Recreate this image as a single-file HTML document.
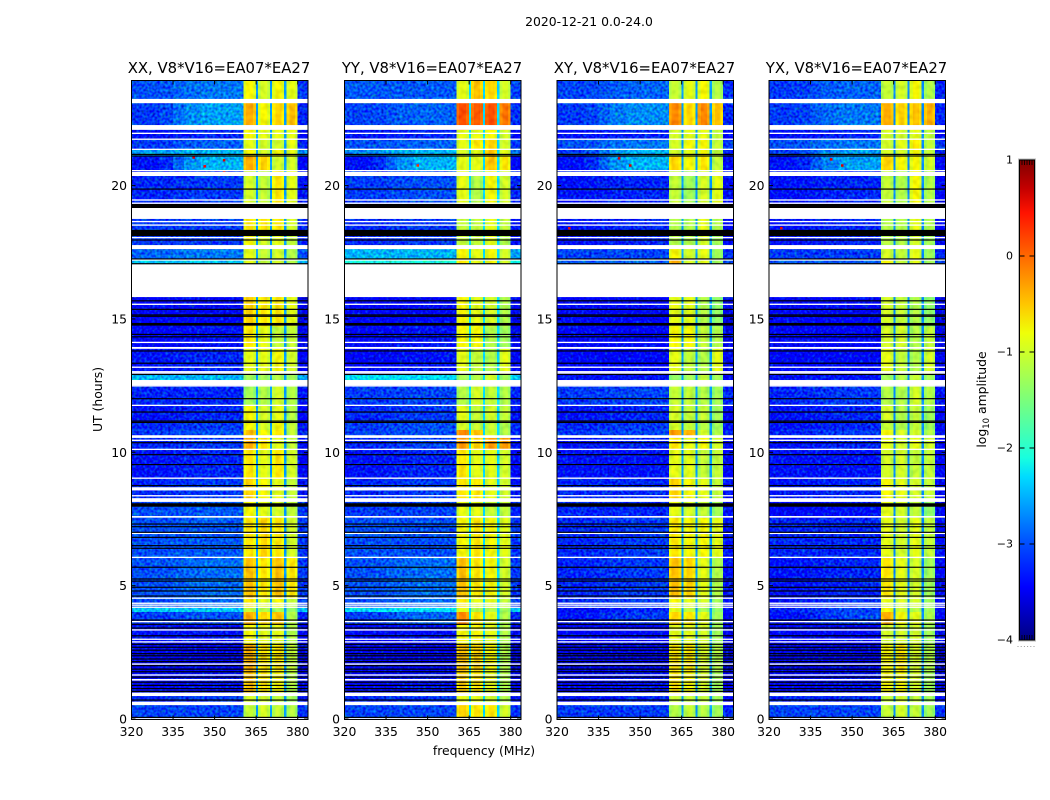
<!DOCTYPE html>
<html lang="en">
<head>
<meta charset="utf-8">
<title>2020-12-21 0.0-24.0</title>
<style>
html,body{margin:0;padding:0;background:#fff;}
body{width:1050px;height:800px;overflow:hidden;}
svg{display:block;}
text{font-family:"DejaVu Sans","Liberation Sans",sans-serif;fill:#000;}
</style>
</head>
<body>
<svg id="figure" xmlns="http://www.w3.org/2000/svg" width="1050" height="800" viewBox="0 0 1050 800">
  <defs>
    <filter id="bgNoise" filterUnits="userSpaceOnUse" x="0" y="0" width="1050" height="800" color-interpolation-filters="sRGB">
      <feTurbulence type="fractalNoise" baseFrequency="0.38" numOctaves="1" seed="7" result="n"/>
      <feColorMatrix in="n" type="matrix" values="0 0 0 0 0.5  1 0 0 0 0  0 1 0 0 0  0 0 0 0 1" result="m"/>
      <feComposite in="SourceGraphic" in2="m" operator="arithmetic" k1="0" k2="1" k3="1.0" k4="-0.5" result="mix"/>
      <feComposite in="mix" in2="SourceAlpha" operator="in"/>
    </filter>
    <filter id="bandNoise" filterUnits="userSpaceOnUse" x="0" y="0" width="1050" height="800" color-interpolation-filters="sRGB">
      <feTurbulence type="fractalNoise" baseFrequency="0.2" numOctaves="1" seed="3" result="n"/>
      <feColorMatrix in="n" type="matrix" values="1 0 0 0 0  1 0 0 0 0  0 0 0 0 0.5  0 0 0 0 1" result="m"/>
      <feComposite in="SourceGraphic" in2="m" operator="arithmetic" k1="0" k2="1" k3="0.28" k4="-0.14" result="mix"/>
      <feComposite in="mix" in2="SourceAlpha" operator="in"/>
    </filter>
    <linearGradient id="jetGradient" x1="0" y1="1" x2="0" y2="0"></linearGradient>
  </defs>
  <rect width="1050" height="800" fill="#fff"/>
  <text x="589" y="26" font-size="12.4" text-anchor="middle">2020-12-21 0.0-24.0</text>
  <text x="484" y="755" font-size="12.4" text-anchor="middle">frequency (MHz)</text>
  <text x="0" y="0" font-size="12.4" text-anchor="middle" transform="translate(102,399.5) rotate(-90)">UT (hours)</text>
  <text x="0" y="0" font-size="12.4" text-anchor="middle" transform="translate(986,399.5) rotate(-90)">log<tspan font-size="8.5" dy="3">10</tspan><tspan dy="-3"> amplitude</tspan></text>
  <g id="panels"></g>
  <g id="colorbar"></g>
</svg>
<script>
// ---------- chart data ----------
const panelTitles = ["XX, V8*V16=EA07*EA27", "YY, V8*V16=EA07*EA27", "XY, V8*V16=EA07*EA27", "YX, V8*V16=EA07*EA27"];
const frequencyTicks = [320, 335, 350, 365, 380];
const hourTicks = [0, 5, 10, 15, 20];
const colorbarTicks = [1, 0, -1, -2, -3, -4];

// Start hour (top edge) of every time block, UT hours.
const blockStartHour = [23.94, 23.09, 22.08, 21.74, 21.36, 21.11, 20.55, 18.75, 18.11, 17.62, 17.25, 15.82, 14.72, 13.88, 12.94, 12.70, 11.76, 11.14, 10.84, 10.54, 10.12, 9.04, 8.14, 7.54, 6.04, 4.54, 4.16, 4.01, 3.52, 2.77, 1.76, 0.86, 0.52];
const blockEndHour = 0;

// Frequency zones, MHz.
const backgroundEdges = [320, 330, 335, 339, 345, 352, 360.4];
const backgroundMix = [0, 0.15, 0.5, 0.8, 1, 1];
const bandEdges = [360.4, 361.4, 363.8, 364.9, 365.7, 366.8, 369, 370, 370.8, 372, 374.1, 375.1, 375.9, 377.1, 379, 380];
const bandColumnZone = [0, 0, 0, -1, 1, 1, 1, -1, 2, 2, 2, -1, 3, 3, 3];
const bandColumnOffset = [-0.1, 0.05, -0.1, 0, -0.1, 0.05, -0.1, 0, -0.1, 0.05, -0.1, 0, -0.1, 0.05, -0.1];
const edgeEnd = [380, 383.7];
const stripeLevels = [-2.6, -2.3, -2.6, -2.7];

// log10 amplitude per block: [bg 320-336, bg 336-360, band1, band2, band3, band4]
const xxLevels = [
[-3.0,-2.8,-.8,-1,-.8,-.9],[-3.1,-2.6,-.4,-.8,-.6,-.5],[-3.3,-3.2,-.8,-.9,-.9,-.9],[-3.1,-2.9,-.9,-1,-1,-.9],
[-2.6,-2.5,-.8,-1,-.8,-.9],[-3.3,-2.5,-.4,-.6,-1,-1],[-3.2,-3.1,-1,-1.1,-.7,-.9],[-3.1,-3.1,-.7,-.7,-.7,-1],
[-3.1,-3.1,-.8,-1,-.9,-1.1],[-2.9,-2.8,-.9,-1.1,-1,-1.2],[-2.4,-2.4,-.9,-1.1,-1,-1.2],[-3.45,-3.4,-.6,-.7,-.7,-.9],
[-3.4,-3.3,-.7,-.9,-1.1,-1.1],[-3.3,-3.2,-.9,-.9,-.8,-1],[-2.5,-2.5,-1.3,-1.3,-1.2,-1.3],[-3.2,-3.2,-1.3,-1.2,-1,-1.2],
[-3.3,-3.2,-.8,-1,-.9,-1.2],[-3.2,-3.1,-.8,-1,-.8,-1.1],[-3.1,-3,-.5,-.8,-.7,-1.1],[-3.2,-3.1,-.4,-.7,-.9,-1.1],
[-3.3,-3.2,-.7,-.9,-.7,-1],[-3.2,-3.1,-.6,-.8,-.9,-1.1],[-3,-2.95,-.8,-.9,-1,-1.1],[-3,-2.95,-.7,-.6,-.7,-1],
[-3,-2.85,-.5,-.7,-.5,-.7],[-3,-2.85,-.7,-.9,-.8,-1.1],[-2.4,-2.4,-1.1,-1.2,-1.3,-1.4],[-3.1,-3,-.4,-.6,-.5,-1.2],
[-3.3,-3.3,-.8,-.9,-.9,-1.2],[-3.5,-3.45,-.4,-.7,-.7,-1.1],[-3.4,-3.3,-.5,-.7,-.8,-1.2],[-3.2,-3.1,-1,-1,-1.1,-1.3],
[-3.05,-3.05,-1.1,-1,-1.1,-1.2]];
const yyLevels = [
[-2.95,-2.95,-.9,-.5,-.6,-1],[-3.05,-2.9,.1,.05,.1,-.1],[-3.3,-3.2,-.9,-.9,-.8,-1],[-3,-2.9,-.9,-.7,-.6,-1],
[-2.7,-2.5,-1,-.9,-.5,-.9],[-3.3,-2.5,-.9,-.9,-.5,-.7],[-3.1,-3,-.9,-1.2,-.8,-1],[-3.2,-3.1,-1.1,-1.1,-.9,-1.1],
[-3.2,-3.1,-1.1,-1.1,-.9,-1.2],[-2.5,-2.5,-.8,-.9,-.8,-1],[-2.1,-2.1,-.7,-.9,-.8,-1],[-3.4,-3.4,-.8,-.9,-1,-1.2],
[-3.4,-3.3,-.8,-.8,-1.2,-1.3],[-3.4,-3.3,-.9,-1.1,-1.2,-.9],[-2.3,-2.3,-1.3,-1.2,-1,-1.3],[-3.1,-3.05,-1.2,-1,-1.1,-1.2],
[-3.2,-3.1,-.9,-1.1,-1,-1.1],[-3.1,-3,-1,-1.1,-1.1,-1.2],[-3.05,-3,-.2,-.5,-1,-1.2],[-3.2,-3.05,-.3,-.6,-.3,-.3],
[-3.3,-3.2,-.7,-.9,-.9,-1],[-3.2,-3.1,-.7,-.7,-.9,-1],[-3.1,-3.05,-.9,-.9,-1.1,-1.1],[-3,-3,-.8,-.7,-.8,-.9],
[-3,-2.85,-.5,-.7,-.8,-1],[-3,-2.85,-.7,-.9,-.9,-1.1],[-2.3,-2.3,-.9,-1.2,-1.2,-1.3],[-3.1,-2.9,-.2,-.7,-.9,-1.2],
[-3.4,-3.3,-.8,-.8,-.9,-1.2],[-3.5,-3.45,-.5,-.6,-.8,-1.2],[-3.4,-3.3,-.6,-.7,-.9,-1.2],[-3.2,-3.1,-.9,-.9,-1,-1.2],
[-3.05,-3.05,-.6,-.7,-.7,-1]];
const xyLevels = [
[-3.05,-2.9,-1.1,-.9,-.8,-1.2],[-3.1,-2.7,-.2,-.6,-.2,-.5],[-3.3,-3.2,-1,-.9,-.9,-1.1],[-3,-2.8,-1,-.8,-.8,-1.1],
[-3.1,-2.5,-1,-.9,-.8,-1.1],[-3.3,-2.5,-.6,-.8,-.7,-1.1],[-3.3,-3.2,-1.1,-1.3,-1,-.9],[-3.3,-3.2,-1.2,-1.2,-.9,-1.2],
[-3.3,-3.2,-1.2,-1.2,-1,-1.3],[-3.05,-3.05,-.8,-1,-.9,-1.3],[-2.9,-2.9,-.4,-1,-.9,-1.3],[-3.45,-3.45,-.9,-.9,-1.2,-1.4],
[-3.45,-3.4,-.8,-.8,-1.1,-1.2],[-3.4,-3.4,-.9,-1.1,-1.2,-.9],[-3.3,-3.3,-1.4,-1.3,-1.1,-1.3],[-3.1,-3.05,-1.1,-1.1,-1.2,-1.3],
[-3.3,-3.2,-1,-1.1,-1.1,-1.3],[-3.2,-3.1,-1,-1.1,-1.2,-1.3],[-3.1,-3.05,-.3,-.4,-1,-1.2],[-3.3,-3.2,-.7,-.9,-.8,-1],
[-3.3,-3.3,-.9,-.9,-1.1,-1.1],[-3.2,-3.2,-.6,-.8,-.9,-1.1],[-3.2,-3.2,-.9,-1,-1.1,-1.3],[-3.2,-3.1,-.7,-.8,-.8,-.9],
[-3.2,-3.1,-.5,-.6,-.9,-1.2],[-3.2,-3.1,-.8,-.9,-1,-1.3],[-3.3,-3.2,-.9,-1.1,-1.3,-1.4],[-3.3,-3.1,-.6,-.7,-.9,-1.3],
[-3.4,-3.4,-.9,-.9,-1,-1.3],[-3.55,-3.5,-.7,-.7,-1,-1.2],[-3.4,-3.3,-.7,-.8,-1,-1.3],[-3.3,-3.2,-1.1,-1.1,-1.1,-1.3],
[-3.1,-3.1,-1.2,-1.1,-1.2,-1.3]];
const yxLevels = [
[-3.1,-2.9,-1.1,-1,-.8,-1.2],[-3.1,-2.8,-.4,-.6,-.5,-.4],[-3.3,-3.2,-1,-1,-.9,-1.1],[-3,-2.8,-1,-.9,-.7,-1.1],
[-3.1,-2.6,-1,-1,-.8,-1.1],[-3.3,-2.6,-.6,-.8,-.8,-1],[-3.3,-3.2,-1.1,-1.2,-.8,-1.2],[-3.3,-3.2,-1.2,-1.2,-.9,-1.2],
[-3.3,-3.2,-1.2,-1.2,-1,-1.3],[-3.1,-3.1,-1,-1.1,-.9,-1.3],[-2.95,-2.95,-.8,-1.1,-.9,-1.3],[-3.45,-3.45,-1,-1.1,-1.2,-1.4],
[-3.45,-3.4,-1,-1,-1.2,-1.1],[-3.4,-3.4,-.9,-1.1,-1.2,-1],[-3.3,-3.3,-1.3,-1.2,-1.1,-1.3],[-3.2,-3.1,-1.2,-1.2,-1,-1.2],
[-3.3,-3.2,-1,-1.2,-1.1,-1.3],[-3.3,-3.2,-1.1,-1.2,-1.1,-1.3],[-3.2,-3.1,-.8,-1,-1,-1.2],[-3.3,-3.2,-.9,-1,-.9,-1],
[-3.3,-3.3,-1,-1,-1.1,-1.1],[-3.3,-3.2,-.8,-.9,-1,-1.1],[-3.4,-3.3,-.9,-1,-1.1,-1.4],[-3.2,-3.2,-.9,-1,-.9,-1.1],
[-3.3,-3.2,-.7,-.9,-1,-1.3],[-3.3,-3.1,-.9,-1,-1,-1.3],[-3.2,-3.05,-.8,-1,-1.2,-1.3],[-3.3,-3.05,-.4,-.8,-.9,-1.2],
[-3.4,-3.4,-1,-1,-1,-1.3],[-3.55,-3.5,-.8,-.7,-1,-1.2],[-3.4,-3.3,-.8,-.8,-1,-1.3],[-3.2,-3.2,-1.1,-1,-1.1,-1.3],
[-3.05,-3.05,-1.1,-1,-1.1,-1.3]];

// Flagged time ranges (no data = white, zero = black), UT hours.
const whiteBandStart = [23.25, 22.27, 20.51, 19.16, 17.77, 17.06, 13.95, 12.71, 10.64, 8.69, 8.28, 7.61, 1.50, 0.99, 0.65];
const whiteBandEnd = [23.09, 22.09, 20.36, 18.75, 17.62, 15.82, 13.88, 12.51, 10.54, 8.57, 8.14, 7.55, 1.44, 0.86, 0.52];
const whiteLineHours = [21.96, 21.74, 21.36, 20.56, 19.46, 19.34, 18.65, 18.52, 18.05, 17.21, 15.55, 14.12, 13.19, 13.02, 12.97, 12.49, 11.76, 10.45, 10.11, 9.03, 8.37, 6.96, 6.06, 4.53, 4.34, 4.27, 4.19, 3.65, 3.34, 2.99, 2.89, 2.06, 1.65, 0.03];
const blackBandStart = [19.31, 18.34, 14.85, 8.09, 1.06];
const blackBandEnd = [19.16, 18.11, 14.75, 7.96, 1.01];
const blackLineHours = [21.17, 21.11, 19.87, 17.96, 17.25, 17.07, 15.68, 15.36, 15.15, 15.10, 14.42, 14.33, 13.80, 13.34, 12.92, 12.01, 11.51, 11.17, 11.12, 10.36, 9.91, 9.54, 8.75, 7.31, 7.21, 7.00, 6.81, 6.50, 6.40, 5.69, 5.25, 5.17, 4.94, 4.80, 4.61, 3.71, 3.55, 3.41, 3.12, 2.80, 2.69, 2.58, 2.45, 2.37, 2.25, 2.15, 2.00, 1.87, 1.77, 1.57, 1.38, 1.26, 1.14, 0.71, 0.06];

// Isolated hot pixels.
const spotPanel = [0, 0, 0, 0, 1, 2, 2, 2, 3, 3, 3];
const spotFreq = [342, 353, 353, 346, 346, 342, 346, 324, 342, 346, 324];
const spotHour = [21.1, 21.0, 20.55, 20.77, 20.8, 21.07, 20.8, 18.45, 21.03, 20.8, 18.45];
const spotLevel = [0.6, 0.6, 0.6, 0.5, 0.3, 0.6, 0.6, 0.5, 0.6, 0.6, 0.5];

// ---------- scales ----------
const panelLevels = [xxLevels, yyLevels, xyLevels, yxLevels];
const panelLeft = [131.5, 344.5, 557, 769];
const SVGNS = "http://www.w3.org/2000/svg";
const PLOT_W = 176.5, PX_PER_MHZ = 2.77, PX_PER_HOUR = 26.67, Y0 = 719;
const xScale = (p, f) => panelLeft[p] + (f - 320) * PX_PER_MHZ;
const yScale = h => Y0 - h * PX_PER_HOUR;
function ramp(t, pts) {
  for (let i = 1; i < pts.length; i++) {
    if (t <= pts[i][0]) {
      const a = pts[i - 1], b = pts[i];
      return a[1] + (b[1] - a[1]) * (t - a[0]) / (b[0] - a[0]);
    }
  }
  return pts[pts.length - 1][1];
}
const JET_R = [[0, 0], [.35, 0], [.66, 1], [.89, 1], [1, .5]];
const JET_G = [[0, 0], [.125, 0], [.375, 1], [.64, 1], [.91, 0], [1, 0]];
const JET_B = [[0, .5], [.11, 1], [.34, 1], [.65, 0], [1, 0]];
function jet(v) {
  const t = Math.max(0, Math.min(1, (v + 4) / 5));
  const c = p => Math.round(255 * ramp(t, p));
  return "rgb(" + c(JET_R) + "," + c(JET_G) + "," + c(JET_B) + ")";
}
function node(tag, attrs, parent) {
  const el = document.createElementNS(SVGNS, tag);
  for (const k in attrs) el.setAttribute(k, attrs[k]);
  parent.appendChild(el);
  return el;
}
function addCell(parent, p, f0, f1, h0, h1, v) {
  const x0 = xScale(p, f0), x1 = xScale(p, f1), y0 = yScale(h0), y1 = yScale(h1);
  const el = node("rect", {x: x0, y: y0, width: x1 - x0, height: y1 - y0, fill: jet(v), "shape-rendering": "crispEdges"}, parent);
  
  
  return el;
}
function addFlag(parent, p, h0, h1, color) {
  const el = node("rect", {x: panelLeft[p], y: yScale(h0), width: PLOT_W, height: yScale(h1) - yScale(h0), fill: color}, parent);
  
  
}

// ---------- panels ----------
const panelsRoot = document.getElementById("panels");
panelTitles.forEach((title, p) => {
  const g = node("g", {}, panelsRoot);
  
  
  const levels = panelLevels[p];
  const bgGroup = node("g", {filter: "url(#bgNoise)"}, g);
  
  
  const bandGroup = node("g", {filter: "url(#bandNoise)"}, g);
  
  
  blockStartHour.forEach((start, b) => {
    const end = b + 1 < blockStartHour.length ? blockStartHour[b + 1] : blockEndHour;
    const row = levels[b];
    backgroundMix.forEach((w, c) => {
      addCell(bgGroup, p, backgroundEdges[c], backgroundEdges[c + 1], start, end, row[0] + w * (row[1] - row[0]));
    });
    addCell(bgGroup, p, edgeEnd[0], edgeEnd[1], start, end, row[0] - 0.1);
    bandColumnZone.forEach((zone, c) => {
      const v = zone < 0 ? stripeLevels[p] : row[zone + 2] + bandColumnOffset[c];
      addCell(bandGroup, p, bandEdges[c], bandEdges[c + 1], start, end, v);
    });
  });
  spotPanel.forEach((sp, i) => {
    if (sp !== p) return;
    const el = node("rect", {x: xScale(p, spotFreq[i]), y: yScale(spotHour[i]), width: 2.5, height: 2.5, fill: jet(spotLevel[i])}, g);
    
    
  });
  whiteBandStart.forEach((s, i) => addFlag(g, p, s, whiteBandEnd[i], "#fff"));
  whiteLineHours.forEach(h => addFlag(g, p, h + 0.025, h - 0.025, "#fff"));
  blackBandStart.forEach((s, i) => addFlag(g, p, s, blackBandEnd[i], "#000"));
  blackLineHours.forEach(h => addFlag(g, p, h + 0.022, h - 0.022, "#000"));

  const left = panelLeft[p], top = 80.5, bottom = 719.5, right = left + PLOT_W;
  const frame = node("rect", {x: left, y: top, width: PLOT_W, height: bottom - top, fill: "none", stroke: "#000", "stroke-width": 1}, g);
  
  
  const titleEl = node("text", {x: left + 87.5, y: 73, "font-size": 14.85, "text-anchor": "middle"}, g);
  titleEl.textContent = title;
  
  

  frequencyTicks.forEach(f => {
    const x = xScale(p, f);
    const tb = node("line", {x1: x, x2: x, y1: bottom, y2: bottom - 4, stroke: "#000"}, g);
    
    
    const tt = node("line", {x1: x, x2: x, y1: top, y2: top + 4, stroke: "#000"}, g);
    
    
    const lab = node("text", {x: x, y: 736, "font-size": 12.4, "text-anchor": "middle"}, g);
    lab.textContent = f;
    
    
  });
  hourTicks.forEach(h => {
    const y = yScale(h);
    const tl = node("line", {x1: left, x2: left + 4, y1: y, y2: y, stroke: "#000"}, g);
    
    
    const tr = node("line", {x1: right, x2: right - 4, y1: y, y2: y, stroke: "#000"}, g);
    
    
    const lab = node("text", {x: left - 4.5, y: y + 4.5, "font-size": 12.4, "text-anchor": "end"}, g);
    lab.textContent = h;
    
    
  });
});

// ---------- colorbar ----------
const CB_LEFT = 1019.5, CB_W = 15, CB_TOP = 160, CB_BOTTOM = 640;
const cbScale = v => CB_BOTTOM - (v + 4) / 5 * (CB_BOTTOM - CB_TOP);
const grad = document.getElementById("jetGradient");
[-4, -3.45, -3, -2.75, -2.3, -2.1, -1.8, -1.5, -1.2, -1, -.8, -.5, -.2, .1, .45, .7, 1].forEach(v => {
  node("stop", {offset: ((v + 4) / 5 * 100) + "%", "stop-color": jet(v)}, grad);
});
const cbRoot = document.getElementById("colorbar");
const cbBody = node("rect", {x: CB_LEFT, y: CB_TOP, width: CB_W, height: CB_BOTTOM - CB_TOP, fill: "url(#jetGradient)", stroke: "#000", "stroke-width": 1}, cbRoot);


const cbHalo = node("rect", {x: CB_LEFT - 1, y: CB_TOP - 1, width: CB_W + 2, height: CB_BOTTOM - CB_TOP + 2, fill: "none", stroke: "#bbb", "stroke-width": 1}, cbRoot);


colorbarTicks.forEach(v => {
  const y = cbScale(v);
  const a = node("line", {x1: CB_LEFT, x2: CB_LEFT + 5, y1: y, y2: y, stroke: "#000"}, cbRoot);
  
  
  const b = node("line", {x1: CB_LEFT + CB_W, x2: CB_LEFT + CB_W - 5, y1: y, y2: y, stroke: "#000"}, cbRoot);
  
  
  const lab = node("text", {x: 1013, y: y + 3.5, "font-size": 11, "text-anchor": "end"}, cbRoot);
  lab.textContent = v < 0 ? "\u2212" + Math.abs(v) : String(v);
  
  
});
const cbMinorOffsets = [0, 1, 2, 3, 4];
cbMinorOffsets.forEach(i => {
  const x = CB_LEFT + 2.5 + i * 2.5;
  const t = node("line", {x1: x, x2: x, y1: CB_TOP, y2: CB_TOP + 5, stroke: "#000", "stroke-opacity": .8}, cbRoot);
  
  
  const u = node("line", {x1: x, x2: x, y1: CB_BOTTOM, y2: CB_BOTTOM - 5, stroke: "#000", "stroke-opacity": .8}, cbRoot);
  
  
});
[0, 1, 2, 3, 4, 5].forEach(i => {
  const d = node("rect", {x: 1017.5 + i * 3.2, y: 646, width: 1, height: 1, fill: "#999"}, cbRoot);
  
  
});
</script>
</body>
</html>
